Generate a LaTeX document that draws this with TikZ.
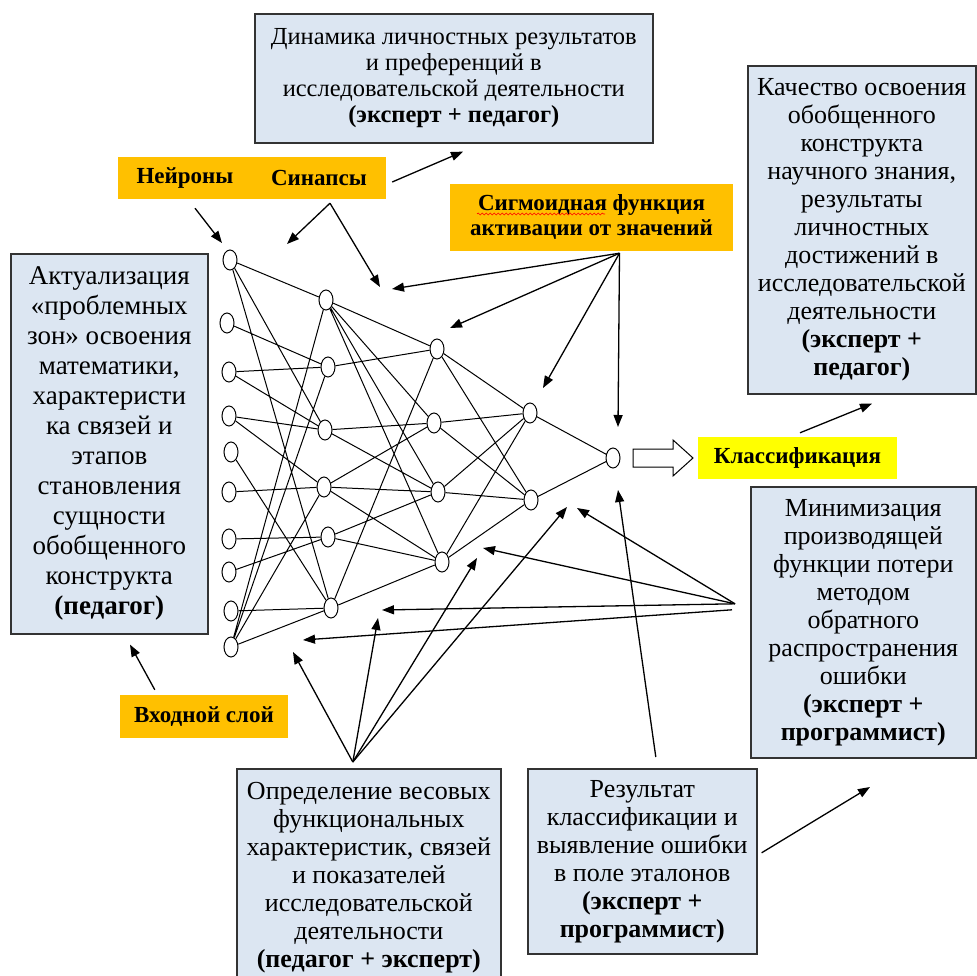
\documentclass[tikz,border=0pt]{standalone}
\usepackage{fontspec}
\setmainfont{Liberation Serif}
\usetikzlibrary{shapes.geometric}
\usetikzlibrary{positioning,calc}
\usetikzlibrary{arrows.meta}
\usetikzlibrary{decorations.pathmorphing}

\definecolor{boxblue}{HTML}{DCE6F2}
\definecolor{tagorange}{HTML}{FFC000}
\definecolor{tagyellow}{HTML}{FFFF00}

\begin{document}
\begin{tikzpicture}[x=1pt,y=-1pt,
  neuron/.style={ellipse,draw,line width=1pt,minimum width=14pt,minimum height=20pt,inner sep=0pt},
  link/.style={line width=1pt},
  pointer/.style={line width=1.3pt,-{Triangle[length=12pt,width=9pt]}},
  infobox/.style={draw=black!80,line width=1.6pt,fill=boxblue,align=center,inner sep=0pt,anchor=north west,font=\fontsize{26}{28}\selectfont},
  tag/.style={fill=tagorange,inner sep=0pt,align=center,font=\fontsize{23}{25}\selectfont\bfseries}]
  \useasboundingbox (0,0) rectangle (977,976);

  % boxes
  \node (dynamics) at (254,13) [infobox,minimum width=398pt,minimum height=129pt,font=\fontsize{24.5}{26}\selectfont]
    {Динамика личностных результатов\\ и преференций в\\ исследовательской деятельности\\ \textbf{(эксперт + педагог)}};
  \node (quality) at (747,65) [infobox,minimum width=228pt,minimum height=328pt]
    {Качество освоения\\ обобщенного\\ конструкта\\ научного знания,\\ результаты\\ личностных\\ достижений в\\ исследовательской\\ деятельности\\ \textbf{(эксперт +}\\ \textbf{педагог)}};
  \node (actual) at (10,253) [infobox,minimum width=197pt,minimum height=380pt,font=\fontsize{27}{30}\selectfont]
    {Актуализация\\ «проблемных\\ зон» освоения\\ математики,\\ характеристи\\ ка связей и\\ этапов\\ становления\\ сущности\\ обобщенного\\ конструкта\\ \textbf{(педагог)}};
  \node (minimize) at (750,486) [infobox,minimum width=225pt,minimum height=271pt]
    {Минимизация\\ производящей\\ функции потери\\ методом\\ обратного\\ распространения\\ ошибки\\ \textbf{(эксперт +}\\ \textbf{программист)}};
  \node (weights) at (236,768) [infobox,minimum width=264pt,minimum height=218pt]
    {Определение весовых\\ функциональных\\ характеристик, связей\\ и показателей\\ исследовательской\\ деятельности\\ \textbf{(педагог + эксперт)}};
  \node (result) at (527,768) [infobox,minimum width=229pt,minimum height=185pt]
    {Результат\\ классификации и\\ выявление ошибки\\ в поле эталонов\\ \textbf{(эксперт +}\\ \textbf{программист)}};

  % labels
  \node (neurons) at (185,178) [tag,minimum width=134pt,minimum height=42pt] {Нейроны};
  \node (synapses) at (319,178) [tag,minimum width=134pt,minimum height=42pt] {Синапсы};
  \node (sigmoid) at (591.5,217.5) [tag,minimum width=283pt,minimum height=67pt] {Сигмоидная функция\\ активации от значений};
  \draw [red,line width=0.6pt,decorate,decoration={snake,amplitude=1pt,segment length=4pt}] (477,214) -- (605,214);
  \node (classes) at (797.5,458) [tag,fill=tagyellow,minimum width=199pt,minimum height=42pt] {Классификация};
  \node (inputlayer) at (204,716.5) [tag,minimum width=168pt,minimum height=43pt] {Входной слой};

  % neurons
  \node (in1) at (230,260) [neuron] {};
  \node (in2) at (227,323) [neuron] {};
  \node (in3) at (229,372) [neuron] {};
  \node (in4) at (229,416) [neuron] {};
  \node (in5) at (231,452) [neuron] {};
  \node (in6) at (229,492) [neuron] {};
  \node (in7) at (229,539) [neuron] {};
  \node (in8) at (229,572) [neuron] {};
  \node (in9) at (231,611) [neuron] {};
  \node (in10) at (231,647) [neuron] {};
  \node (h1) at (326,300) [neuron] {};
  \node (h2) at (328,367) [neuron] {};
  \node (h3) at (325,430) [neuron] {};
  \node (h4) at (324,487) [neuron] {};
  \node (h5) at (328,537) [neuron] {};
  \node (h6) at (331,608) [neuron] {};
  \node (j1) at (437,349) [neuron] {};
  \node (j2) at (434,423) [neuron] {};
  \node (j3) at (438,492) [neuron] {};
  \node (j4) at (442,562) [neuron] {};
  \node (k1) at (530,413) [neuron] {};
  \node (k2) at (531,500) [neuron] {};
  \node (out) at (613,458) [neuron] {};

  % synapses
  \draw [link] (in1) -- (h1) (in1) -- (h3) (in1) -- (h6) (in2) -- (h2)
    (in3) -- (h2) (in3) -- (h3) (in4) -- (h3) (in4) -- (h4) (in5) -- (h6)
    (in6) -- (h4) (in7) -- (h5) (in8) -- (h5) (in9) -- (h6)
    (in10) -- (h6) (in10) -- (h4) (in10) -- (h1) (in10) -- (h2);
  \draw [link] (h1) -- (j1) (h1) -- (j2) (h1) -- (j3) (h1) -- (j4)
    (h2) -- (j1) (h3) -- (j2) (h3) -- (j3) (h4) -- (j2) (h4) -- (j3) (h4) -- (j4)
    (h5) -- (j3) (h5) -- (j4) (h6) -- (j1) (h6) -- (j4);
  \draw [link] (j1) -- (k1) (j1) -- (k2) (j2) -- (k1) (j2) -- (k2)
    (j3) -- (k1) (j3) -- (k2) (j4) -- (k1) (j4) -- (k2)
    (k1) -- (out) (k2) -- (out);

  % output arrow
  \draw [line width=1pt,fill=white] (633,449) -- (673,449) -- (673,440) -- (693,458)
    -- (673,476) -- (673,467) -- (633,467) -- cycle;

  % pointers
  \coordinate (syntipA) at (287,244);
  \coordinate (syntipB) at (380,287);
  \coordinate (sigtipA) at (392,289);
  \coordinate (sigtipB) at (450,328);
  \coordinate (sigtipC) at (543,388);
  \coordinate (sigtipD) at (618,427);
  \coordinate (mintipA) at (577,508);
  \coordinate (mintipB) at (483,548);
  \coordinate (mintipC) at (382,610);
  \coordinate (mintipD) at (303,640);
  \coordinate (wtipA) at (293,652);
  \coordinate (wtipB) at (378,618);
  \coordinate (wtipC) at (477,558);
  \coordinate (wtipD) at (567,507);
  \coordinate (restip) at (618,490);
  \coordinate (resfree) at (870,787);

  \draw [pointer] ($(neurons.south)+(10,9)$) -- ($(in1)+(-8,-17)$);
  \draw [pointer] ($(synapses.south)+(11,4)$) -- (syntipA);
  \draw [pointer] ($(synapses.south)+(11,4)$) -- (syntipB);
  \draw [pointer] ($(synapses.east)+(6,4)$) -- ($(dynamics.south west)+(209,8)$);
  \draw [pointer] ($(sigmoid.south)+(28,2)$) -- (sigtipA);
  \draw [pointer] ($(sigmoid.south)+(28,2)$) -- (sigtipB);
  \draw [pointer] ($(sigmoid.south)+(28,2)$) -- (sigtipC);
  \draw [pointer] ($(sigmoid.south)+(28,2)$) -- (sigtipD);
  \draw [pointer] ($(classes.north)+(2.5,-4)$) -- ($(quality.south west)+(125,9)$);
  \draw [pointer] ($(inputlayer.north west)+(35,-5)$) -- ($(actual.south west)+(120,10)$);
  \draw [pointer] ($(minimize.west)+(-15,-18.5)$) -- (mintipA);
  \draw [pointer] ($(minimize.west)+(-15,-18.5)$) -- (mintipB);
  \draw [pointer] ($(minimize.west)+(-15,-18.5)$) -- (mintipC);
  \draw [pointer] ($(minimize.west)+(-18,-12.5)$) -- (mintipD);
  \draw [pointer] ($(weights.north)+(-16,-6)$) -- (wtipA);
  \draw [pointer] ($(weights.north)+(-16,-6)$) -- (wtipB);
  \draw [pointer] ($(weights.north)+(-16,-6)$) -- (wtipC);
  \draw [pointer] ($(weights.north)+(-16,-6)$) -- (wtipD);
  \draw [pointer] ($(result.north)+(13.5,-11)$) -- (restip);
  \draw [pointer] ($(result.east)+(4,-8.5)$) -- (resfree);
\end{tikzpicture}
\end{document}
